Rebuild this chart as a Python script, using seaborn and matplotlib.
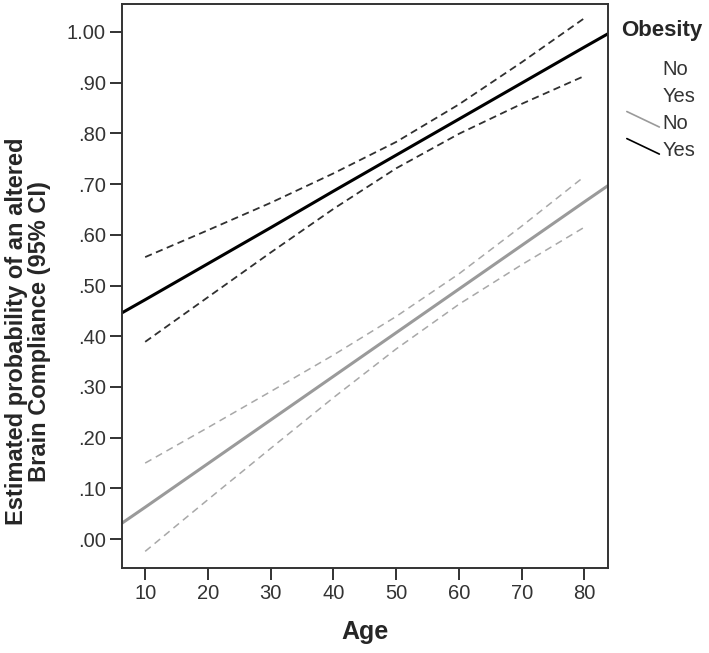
import numpy as np
import pandas as pd
import seaborn as sns
import matplotlib.pyplot as plt
from matplotlib.lines import Line2D
from matplotlib.legend_handler import HandlerBase

# valores (probabilidade estimada por idade)
ages_fit = [6, 10, 20, 30, 40, 50, 60, 70, 80, 84]
fit_no = [0.029, 0.063, 0.149, 0.235, 0.321, 0.407, 0.493, 0.579, 0.665, 0.699]
fit_yes = [0.444, 0.472, 0.543, 0.614, 0.686, 0.757, 0.828, 0.899, 0.970, 0.998]

ages_ci = [10, 20, 30, 40, 50, 60, 70, 80]
no_upper = [0.150, 0.220, 0.291, 0.363, 0.439, 0.523, 0.617, 0.715]
no_lower = [-0.024, 0.078, 0.179, 0.279, 0.375, 0.463, 0.541, 0.615]
yes_upper = [0.556, 0.609, 0.663, 0.721, 0.783, 0.857, 0.940, 1.027]
yes_lower = [0.389, 0.477, 0.565, 0.651, 0.731, 0.799, 0.858, 0.913]

x_ticks = [10, 20, 30, 40, 50, 60, 70, 80]
y_ticks = [0.0, 0.1, 0.2, 0.3, 0.4, 0.5, 0.6, 0.7, 0.8, 0.9, 1.0]
y_tick_labels = ['.00', '.10', '.20', '.30', '.40', '.50', '.60', '.70', '.80', '.90', '1.00']
legend_labels = ['No', 'Yes', 'No', 'Yes']

sns.set_style('ticks')
plt.rcParams['font.family'] = ['Liberation Sans', 'DejaVu Sans']

fig = plt.figure(figsize=(7.09, 6.53), dpi=100)
ax = fig.add_axes([0.172, 0.130, 0.686, 0.864])

gray = '#9a9a9a'
gray_ci = '#a8a8a8'

df_fit = pd.DataFrame({'age': ages_fit, 'no': fit_no, 'yes': fit_yes})
df_ci = pd.DataFrame({'age': ages_ci, 'no_up': no_upper, 'no_lo': no_lower,
                      'yes_up': yes_upper, 'yes_lo': yes_lower})

# intervalos de confianca (tracejado)
for col, cor, lw, dash in [('no_up', gray_ci, 1.1, (4.7, 3.3)),
                           ('no_lo', gray_ci, 1.1, (4.7, 3.3)),
                           ('yes_up', '#303030', 1.3, (4, 2.5)),
                           ('yes_lo', '#303030', 1.3, (4, 2.5))]:
    sns.lineplot(data=df_ci, x='age', y=col, ax=ax, color=cor, lw=lw,
                 linestyle=(0, dash))

# linhas ajustadas
sns.lineplot(data=df_fit, x='age', y='no', ax=ax, color=gray, lw=2.2)
sns.lineplot(data=df_fit, x='age', y='yes', ax=ax, color='black', lw=2.2)

ax.set_xlim(6.3, 83.8)
ax.set_ylim(-0.057, 1.055)
ax.set_xticks(x_ticks)
ax.set_xticklabels([str(v) for v in x_ticks])
ax.set_yticks(y_ticks)
ax.set_yticklabels(y_tick_labels)
ax.tick_params(axis='both', direction='out', length=8.5, width=1.3,
               labelsize=14.5, labelcolor='#333333', color='#222222', pad=3)

for s in ax.spines.values():
    s.set_color('#333333')
    s.set_linewidth(1.4)

ax.set_xlabel('Age', fontsize=18, fontweight='bold', labelpad=12)
ax.set_ylabel('Estimated probability of an altered\nBrain Compliance (95% CI)',
              fontsize=17, fontweight='bold', linespacing=0.98)
ax.yaxis.set_label_coords(-0.146, 0.42)


class DiagHandler(HandlerBase):
    def create_artists(self, legend, orig_handle, xdescent, ydescent,
                       width, height, fontsize, trans):
        x0 = -xdescent
        y0 = -ydescent
        ln = Line2D([x0 + 0.15 * width, x0 + width],
                    [y0 + height * 1.25, y0 + height * 0.15],
                    color=orig_handle.get_color(), lw=orig_handle.get_linewidth(),
                    transform=trans)
        return [ln]


handles = [Line2D([], [], color='none', lw=1.2),
           Line2D([], [], color='none', lw=1.2),
           Line2D([], [], color=gray, lw=1.2),
           Line2D([], [], color='black', lw=1.2)]
leg = fig.legend(handles, legend_labels, title='Obesity', loc='upper left',
                 bbox_to_anchor=(0.876, 0.970), frameon=False, fontsize=14.5,
                 handlelength=1.9, handletextpad=0.15, labelspacing=0.4,
                 borderpad=0, borderaxespad=0,
                 handler_map={Line2D: DiagHandler()})
leg.get_title().set_fontsize(16)
leg.get_title().set_fontweight('bold')
leg._legend_box.align = 'left'
leg._legend_box.sep = 14
for t in leg.get_texts():
    t.set_color('#333333')

fig.savefig('out.png', dpi=100)
